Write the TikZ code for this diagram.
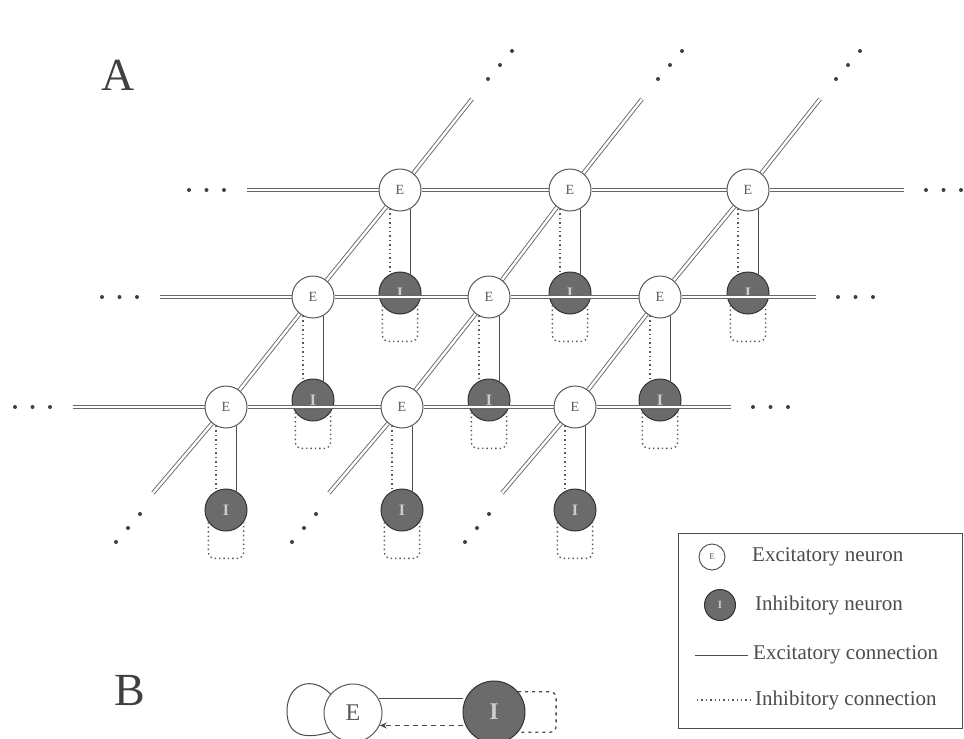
\documentclass[tikz,border=0pt]{standalone}
\usepackage{fontspec}
\setmainfont{Liberation Serif}
\usetikzlibrary{calc,arrows.meta}
\pgfdeclarelayer{bg}
\pgfdeclarelayer{mid}
\pgfsetlayers{bg,mid,main}
\begin{document}
\begin{tikzpicture}[x=1pt,y=-1pt,
  ecell/.style={circle,draw=black!65,fill=white,line width=1pt,minimum size=42pt,inner sep=0pt,text=black!65,font=\fontsize{14}{14}\selectfont},
  icell/.style={circle,draw=black!80,fill=black!58,line width=1pt,minimum size=42pt,inner sep=0pt,text=white!80!black,font=\bfseries\fontsize{16}{16}\selectfont},
  exc/.style={draw=black!60,line width=0.9pt,double=white,double distance=2.4pt},
  econn/.style={draw=black!70,line width=1pt},
  iconn/.style={draw=black!65,line width=1.4pt,dash pattern=on 1.4pt off 3pt},
  bdash/.style={draw=black!70,line width=1.3pt,dash pattern=on 5pt off 4pt},
  iloop/.style={iconn,rounded corners=6pt},
  dotc/.style={fill=black!75},
  lbl/.style={text=black!75,font=\fontsize{46}{46}\selectfont},
  legtext/.style={text=black!70,font=\fontsize{21}{21}\selectfont,anchor=west,inner sep=0pt}
]
\useasboundingbox (0,0) rectangle (964,739);
\begin{pgfonlayer}{bg}
\fill[white] (0,0) rectangle (964,739);
\end{pgfonlayer}

% labels
\node[lbl] (labA) at (118,75) {A};
\node[lbl] (labB) at (130,690) {B};

% excitatory neurons
\node[ecell] (e00) at (400,190) {E};
\node[ecell] (e01) at (570,190) {E};
\node[ecell] (e02) at (748,190) {E};
\node[ecell] (e10) at (313,297) {E};
\node[ecell] (e11) at (489,297) {E};
\node[ecell] (e12) at (660,297) {E};
\node[ecell] (e20) at (226,407) {E};
\node[ecell] (e21) at (402,407) {E};
\node[ecell] (e22) at (575,407) {E};

% inhibitory neurons
\begin{pgfonlayer}{bg}
\foreach \n in {00,01,02,10,11,12,20,21,22}
  \node[icell] (i\n) at ($(e\n)+(0,103)$) {I};
\end{pgfonlayer}

% excitatory lattice connections
\begin{pgfonlayer}{mid}
\foreach \r in {0,1,2} {
  \coordinate (h\r l) at ($(e\r0)+(-153,0)$);
  \coordinate (h\r r) at ($(e\r2)+(156,0)$);
  \draw[exc] (h\r l) -- (e\r0) -- (e\r1) -- (e\r2) -- (h\r r);
  \foreach \k in {0,1,2} {
    \fill[dotc] ($(h\r r)+(22,0)+\k*(17.5,0)$) circle (2pt);
    \fill[dotc] ($(h\r l)+(-23,0)+\k*(-17.5,0)$) circle (2pt);
  }
}
\foreach \c in {0,1,2} {
  \coordinate (d\c b) at ($(e2\c)+(-73,86)$);
  \coordinate (d\c t) at ($(e0\c)+(72,-91)$);
  \draw[exc] (d\c b) -- (e2\c) -- (e1\c) -- (e0\c) -- (d\c t);
  \foreach \k in {0,1,2} {
    \fill[dotc] ($(d\c t)+(16,-20)+\k*(12,-14)$) circle (2pt);
    \fill[dotc] ($(d\c b)+(-13,21)+\k*(-12,14)$) circle (2pt);
  }
}
\end{pgfonlayer}

% E <-> I connections
\foreach \n in {00,01,02,10,11,12,20,21,22} {
  \draw[econn] (e\n.-62) -- (i\n.62);
  \draw[iconn] (e\n.-118) -- (i\n.118);
  \draw[iloop] (i\n.-145) -- ++(0,36) -| (i\n.-35);
}

% legend
\draw[draw=black!70,line width=1pt] (678,533) rectangle (962,728);
\node[ecell,minimum size=26pt,font=\fontsize{9}{9}\selectfont] (le) at (712,557) {E};
\node[legtext] (lt1) at (752,557) {Excitatory neuron};
\node[icell,minimum size=31pt,font=\bfseries\fontsize{11}{11}\selectfont] (li) at (720,605) {I};
\node[legtext] (lt2) at (755,605) {Inhibitory neuron};
\coordinate (lc1a) at (695,655);
\coordinate (lc1b) at (748,655);
\draw[econn] (lc1a) -- (lc1b);
\node[legtext] (lt3) at (753,655) {Excitatory connection};
\coordinate (lc2a) at (697,700);
\coordinate (lc2b) at (750,700);
\draw[iconn] (lc2a) -- (lc2b);
\node[legtext] (lt4) at (755,700) {Inhibitory connection};

% B: single E-I pair
\node[ecell,minimum size=58pt,font=\fontsize{24}{24}\selectfont] (eB) at (353,713) {E};
\node[icell,minimum size=62pt,font=\bfseries\fontsize{24}{24}\selectfont] (iB) at (494,712) {I};
\begin{pgfonlayer}{mid}
\draw[econn] (eB.30) -- (eB.30 -| iB.west);
\draw[bdash,-{Stealth[length=7pt,width=6pt]}] (eB.-25 -| iB.west) -- (eB.-25);
\end{pgfonlayer}
\draw[econn] (eB.140) .. controls ($(eB)+(-40,-38)$) and ($(eB)+(-66,-30)$) .. ($(eB)+(-66,-2)$)
  .. controls ($(eB)+(-66,25)$) and ($(eB)+(-45,26)$) .. (eB.-140);
\draw[bdash,dash pattern=on 3pt off 4pt,rounded corners=6pt] (iB.40) -- ++(38,0) |- (iB.-40);
\end{tikzpicture}
\end{document}
